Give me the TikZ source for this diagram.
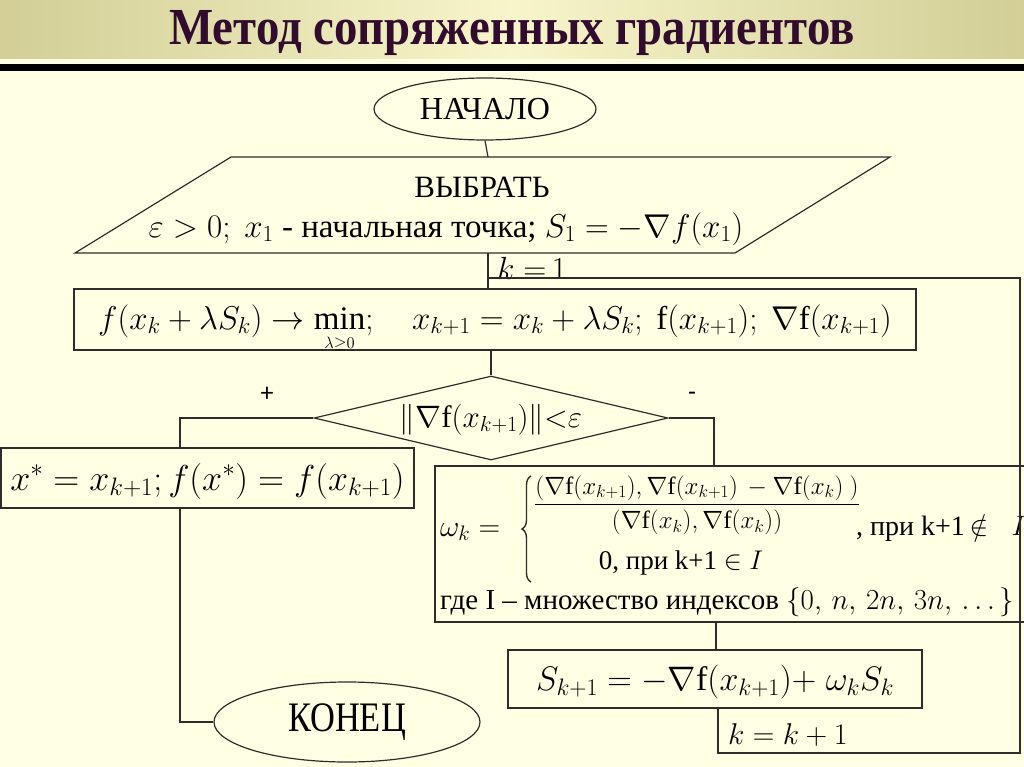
\RequirePackage{fix-cm}
\documentclass[tikz,border=0pt]{standalone}
\usepackage{amsmath,amssymb}
\usepackage{fontspec}
\setmainfont{Liberation Serif}
\newfontfamily\calfont{Carlito}
\usetikzlibrary{shapes.geometric,decorations.pathreplacing}
\definecolor{bgc}{RGB}{255,255,227}
\definecolor{bandA}{RGB}{210,206,150}
\definecolor{bandB}{RGB}{247,245,202}
\definecolor{titc}{RGB}{50,12,46}
\definecolor{linec}{RGB}{45,45,45}
\newcommand{\fs}[1]{\fontsize{#1}{#1}\selectfont}
\tikzset{
  box/.style={draw=linec, line width=1.2pt, rectangle, inner sep=0pt},
  ell/.style={draw=linec, line width=1.2pt, ellipse, inner sep=0pt},
  conn/.style={draw=linec, line width=1.2pt},
  lbl/.style={inner sep=0pt},
}
\begin{document}
\begin{tikzpicture}[x=1pt,y=-1pt]
\useasboundingbox (0,0) rectangle (1024,767);
\fill[bgc] (0,0) rectangle (1024,767);
\shade[left color=bandA, right color=bandA, middle color=bandB] (0,0) rectangle (1024,59);
\fill[black] (0,64) rectangle (1024,71);
\node[lbl, text=titc, font=\bfseries\fs{52}] (title) at (512,33) {\scalebox{0.9}[1]{Метод сопряженных градиентов}};

% start
\node[ell, minimum width=222pt, minimum height=62pt, font=\fs{32}] (start) at (485,109) {НАЧАЛО};

% input parallelogram
\coordinate (pTL) at (231,157);
\coordinate (pTR) at (890,157);
\coordinate (pBR) at (735,253);
\coordinate (pBL) at (75,253);
\draw[conn] (pTL) -- (pTR) -- (pBR) -- (pBL) -- cycle;
\coordinate (seltop) at (488,157);
\coordinate (selbot) at (488,253);
\node[lbl, font=\fs{31}] (selA) at (482,187) {ВЫБРАТЬ};
\node[lbl, font=\fs{33}, anchor=base] (selB) at (446,237) {$\varepsilon>0;\ x_1$ - начальная точка; $S_1=-\nabla f(x_1)$};
\node[lbl, font=\fs{32}, anchor=base west] (k1) at (497,279) {$k\;{=}\,1$};

% box 1
\node[box, minimum width=842pt, minimum height=61pt, font=\fs{33}, text height=19pt, text depth=0pt] (b1) at (495,319.5)
 {$f(x_k+\lambda S_k)\to\min\limits_{\scriptscriptstyle\lambda\geq 0};\quad x_{k+1}=x_k+\lambda S_k;\ \mathrm{f}(x_{k+1});\ \nabla\mathrm{f}(x_{k+1})$};

% decision
\node[draw=linec, line width=1.2pt, diamond, aspect=4.2, inner sep=0pt, minimum width=354pt, minimum height=84pt, font=\fs{31}, text height=18pt, text depth=0pt] (dia) at (491,418)
 {$\|\nabla\mathrm{f}(x_{k+1})\|{<}\varepsilon$};
\node[lbl, font=\calfont\fs{26}] (plus) at (267,394) {+};
\node[lbl, font=\calfont\fs{26}] (minus) at (692,396) {-};

% result box
\node[box, minimum width=413pt, minimum height=60pt, font=\fs{36}, text height=24pt, text depth=0pt] (xs) at (207.5,478)
 {$x^*=x_{k+1};f(x^*)=f(x_{k+1})$};

% omega box
\node[box, minimum width=600pt, minimum height=156pt] (om) at (735,544) {};
\node[lbl, font=\fs{30}, anchor=base west] (omk) at (440,536) {$\omega_k=$};
\draw[draw=linec, line width=1.4pt, decorate, decoration={brace, amplitude=9pt}] (531,582) -- (531,476);
\node[lbl, font=\fs{25}] (omfr) at (697,505)
 {$\dfrac{(\nabla\mathrm{f}(x_{k+1}),\nabla\mathrm{f}(x_{k+1})\,-\nabla\mathrm{f}(x_k)\ )}{(\nabla\mathrm{f}(x_k),\nabla\mathrm{f}(x_k))}$};
\node[lbl, font=\fs{28}, anchor=base west] (omc1) at (856,535) {, при k+1\,$\notin\;\;I$};
\node[lbl, font=\fs{27}, anchor=base] (omc2) at (681,569) {0, при k+1 $\in I$};
\node[lbl, font=\fs{29}, anchor=base west] (omw) at (440,609) {где I – множество индексов $\{0,\,n,\,2n,\,3n,\,\ldots\,\}$};

% S box
\node[box, minimum width=414pt, minimum height=58pt, font=\fs{34}, text height=22pt, text depth=0pt] (sb) at (715,679)
 {$S_{k+1}=-\nabla\mathrm{f}(x_{k+1}){+}\;\omega_kS_k$};
\node[lbl, font=\fs{30}, anchor=base west] (kk) at (728,744) {$k=k+1$};

% end
\node[ell, minimum width=266pt, minimum height=80pt, font=\fs{42}] (end) at (347,722) {\scalebox{0.82}[1]{КОНЕЦ}};

% connectors
\coordinate (j1) at (488,278);
\coordinate (lx) at (180,418);
\coordinate (rx) at (714,418);
\coordinate (mx) at (716,622);
\coordinate (c1) at (718,753);
\coordinate (c2) at (1020,753);
\coordinate (c3) at (1020,278);
\draw[conn] (start.south) -- (seltop);
\draw[conn] (selbot) -- (selbot |- b1.north);
\draw[conn] (dia.north |- b1.south) -- (dia.north);
\draw[conn] (dia.west) -- (lx) -- (lx |- xs.north);
\draw[conn] (lx |- xs.south) -- (lx |- end.west) -- (end.west);
\draw[conn] (dia.east) -- (rx) -- (rx |- om.north);
\draw[conn] (mx |- om.south) -- (mx |- sb.north);
\draw[conn] (c1 |- sb.south) -- (c1) -- (c2) -- (c3) -- (j1);
\end{tikzpicture}
\end{document}
